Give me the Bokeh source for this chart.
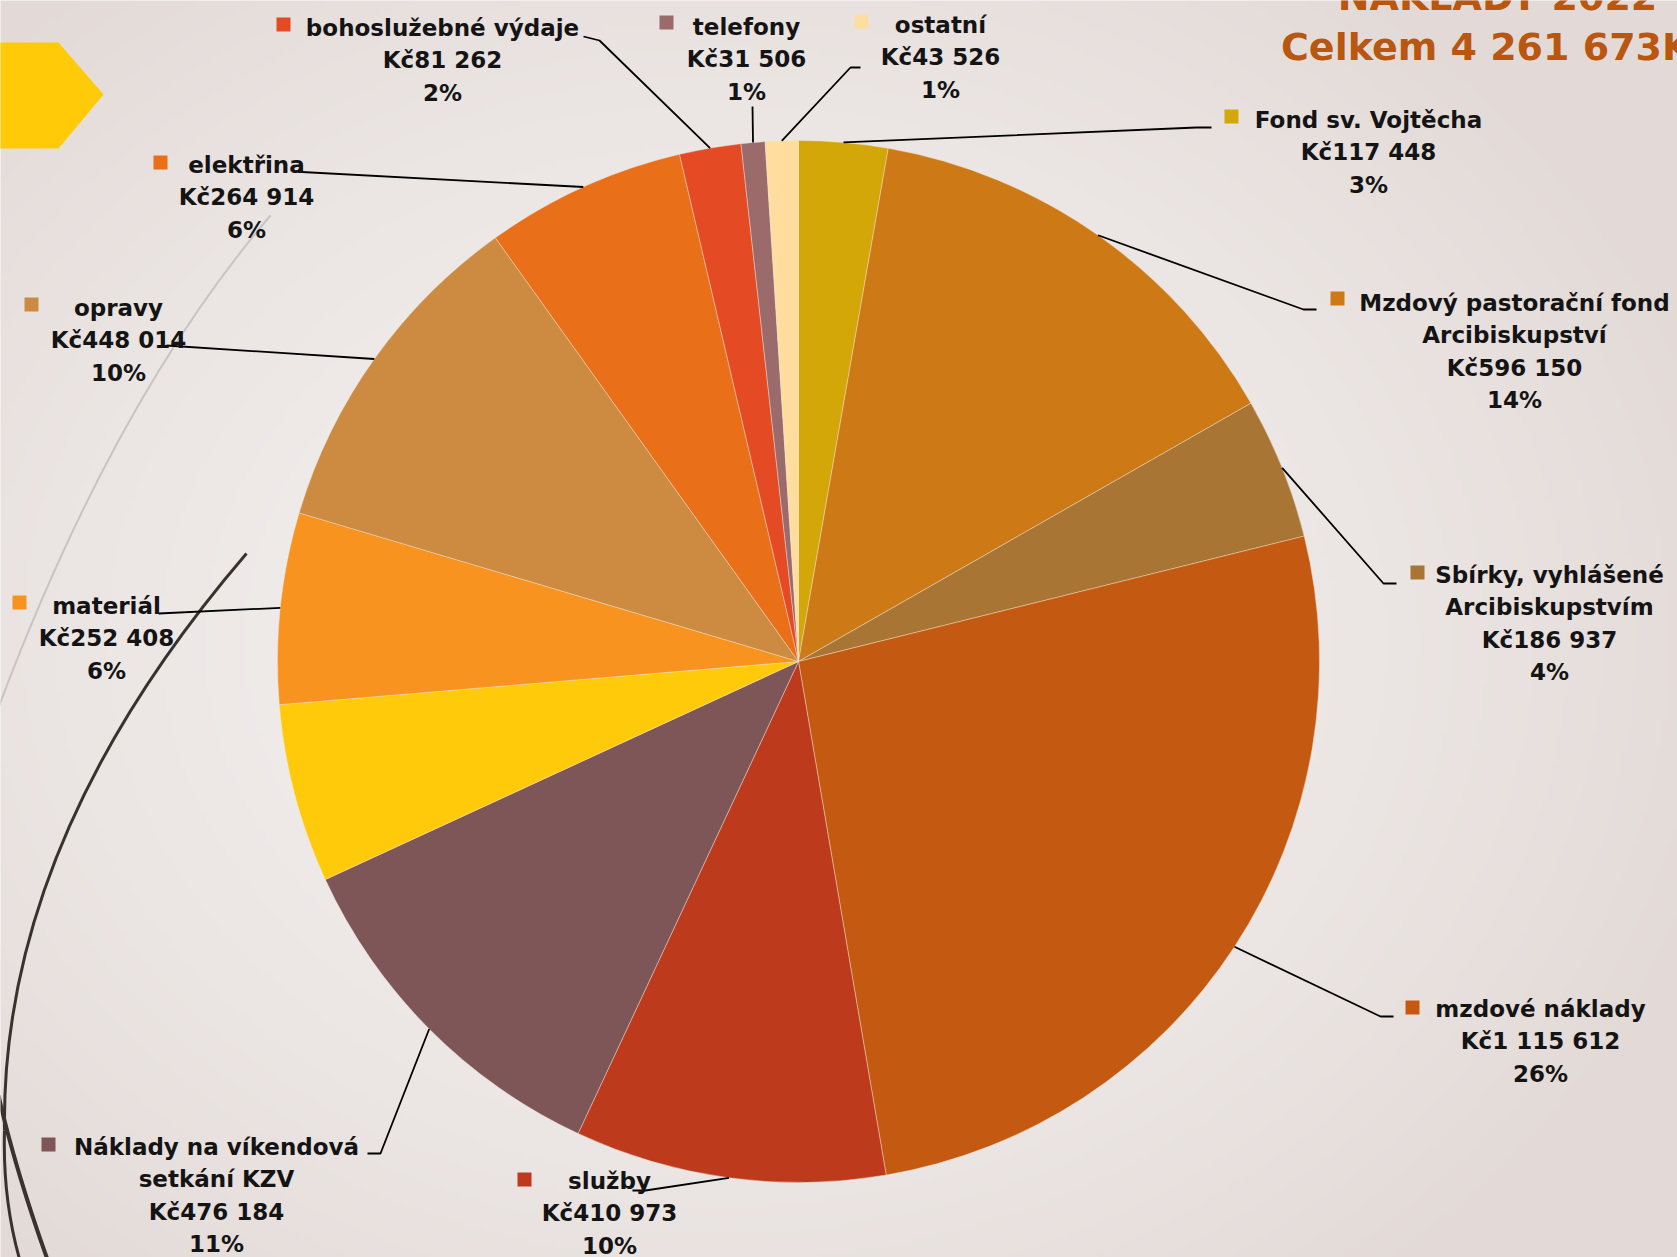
import numpy as np
from bokeh.plotting import figure
from bokeh.models import Range1d
from bokeh.embed import file_html
from bokeh.resources import INLINE
from bokeh.core.properties import value

# ---------------- data ----------------
categories = [
    "Fond sv. Vojtěcha",
    "Mzdový pastorační fond\nArcibiskupství",
    "Sbírky, vyhlášené\nArcibiskupstvím",
    "mzdové náklady",
    "služby",
    "Náklady na víkendová\nsetkání KZV",
    "",                      # unlabelled yellow slice (remainder of the total)
    "materiál",
    "opravy",
    "elektřina",
    "bohoslužebné výdaje",
    "telefony",
    "ostatní",
]
values = [117448, 596150, 186937, 1115612, 410973, 476184, 236739,
          252408, 448014, 264914, 81262, 31506, 43526]
percent_labels = ["3%", "14%", "4%", "26%", "10%", "11%", "",
                  "6%", "10%", "6%", "2%", "1%", "1%"]
colors = ["#D4A708", "#CD7A16", "#A87534", "#C45A11", "#BD3A1C", "#7F5657",
          "#FFCA0A", "#F7931E", "#CD8B41", "#E96F18", "#E44A23", "#9B6B6C",
          "#FFDD9E"]
title_line1 = "NÁKLADY 2022"
title_line2 = "Celkem 4 261 673Kč"

# ---------------- layout (reference pixel coordinates) ----------------
W, H = 1677, 1257
def fy(y):
    return H - y

CX, CY, R = 798, 661, 521
LS = 32.5  # line spacing of data labels

# label block: centre x, first-line y, legend square (x, y), leader elbow/end points
label_layout = {
    0:  dict(cx=1368, y0=119, sq=(1231, 116), lead=[(1196, 127), (1211, 127)]),
    1:  dict(cx=1514, y0=302, sq=(1337, 298), lead=[(1303, 309), (1316, 309)]),
    2:  dict(cx=1549, y0=574, sq=(1417, 572), lead=[(1383, 583), (1396, 583)]),
    3:  dict(cx=1540, y0=1008, sq=(1412, 1007), lead=[(1380, 1016), (1393, 1016)]),
    4:  dict(cx=609, y0=1180, sq=(524, 1179), lead=[(645, 1190), (632, 1190)]),
    5:  dict(cx=216, y0=1146, sq=(48, 1144), lead=[(380, 1153), (367, 1153)]),
    7:  dict(cx=106, y0=605, sq=(19, 602), lead=[(158, 613)]),
    8:  dict(cx=118, y0=307, sq=(31, 304), lead=[(166, 345)]),
    9:  dict(cx=246, y0=164, sq=(160, 162), lead=[(292, 171)]),
    10: dict(cx=442, y0=27, sq=(283, 24), lead=[(599, 40), (583, 36)]),
    11: dict(cx=746, y0=26, sq=(666, 22), lead=[(752, 106)]),
    12: dict(cx=940, y0=24, sq=(861, 21), lead=[(850, 67), (860, 67)]),
}

# ---------------- figure ----------------
p = figure(width=W, height=H,
           x_range=Range1d(0, W), y_range=Range1d(0, H),
           output_backend="svg", toolbar_location=None, min_border=0,
           x_axis_location=None, y_axis_location=None)
p.grid.visible = False
p.outline_line_color = None
p.background_fill_color = "#EEEAE8"
p.border_fill_color = "#EEEAE8"

# soft radial background (slide theme)
gw, gh = 336, 252
gx = np.linspace(0, W, gw)
gy = np.linspace(0, H, gh)
GX, GY = np.meshgrid(gx, gy)
d = np.sqrt(((GX - 720) / 1050.0) ** 2 + (((H - GY) - 640) / 850.0) ** 2)
t = np.clip(d, 0, 1) ** 1.3
c0 = np.array([245, 243, 242], dtype=float)
c1 = np.array([227, 218, 215], dtype=float)
img = np.empty((gh, gw), dtype=np.uint32)
view = img.view(dtype=np.uint8).reshape((gh, gw, 4))
for k in range(3):
    view[:, :, k] = (c0[k] + (c1[k] - c0[k]) * t).astype(np.uint8)
view[:, :, 3] = 255
p.image_rgba(image=[img], x=0, y=0, dw=W, dh=H)

# decorative theme elements
p.patch(x=[-2, 58, 103, 58, -2], y=[fy(42), fy(42), fy(94), fy(148), fy(148)],
        fill_color="#FFCA08", line_color=None)
p.quadratic(x0=[270], y0=[fy(215)], x1=[-5], y1=[fy(715)], cx=[112], cy=[fy(400)],
            line_color="#C9C4C2", line_width=2)
p.quadratic(x0=[246], y0=[fy(553)], x1=[4], y1=[fy(1130)], cx=[0], cy=[fy(840)],
            line_color="#3A322D", line_width=3)
p.quadratic(x0=[4], y0=[fy(1130)], x1=[20], y1=[fy(1262)], cx=[2], cy=[fy(1200)],
            line_color="#3A322D", line_width=3)
p.quadratic(x0=[-2], y0=[fy(1095)], x1=[48], y1=[fy(1262)], cx=[15], cy=[fy(1170)],
            line_color="#3A322D", line_width=4)

# ---------------- pie ----------------
total = float(sum(values))
cum = np.concatenate([[0.0], np.cumsum(values)]) / total
fs, fe = cum[:-1], cum[1:]
p.wedge(x=CX, y=fy(CY), radius=R,
        start_angle=list(np.pi / 2 - 2 * np.pi * fe),
        end_angle=list(np.pi / 2 - 2 * np.pi * fs),
        fill_color=colors, line_color="#F3E6DA", line_width=0.7, line_alpha=0.6)

# ---------------- leaders, labels, squares ----------------
lx, ly = [], []
tx, ty, tt = [], [], []
sx, sy, sc = [], [], []
for i, lay in label_layout.items():
    mid = np.pi * (fs[i] + fe[i])
    px = CX + R * np.sin(mid)
    py = CY - R * np.cos(mid)
    pts = [(px, py)] + lay["lead"]
    lx.append([q[0] for q in pts])
    ly.append([fy(q[1]) for q in pts])
    lines = categories[i].split("\n") + ["Kč" + f"{values[i]:,}".replace(",", " "),
                                          percent_labels[i]]
    for j, s in enumerate(lines):
        tx.append(lay["cx"])
        ty.append(fy(lay["y0"] + j * LS))
        tt.append(s)
    sx.append(lay["sq"][0])
    sy.append(fy(lay["sq"][1]))
    sc.append(colors[i])

p.multi_line(xs=lx, ys=ly, line_color="#000000", line_width=1.8)
p.rect(x=sx, y=sy, width=14, height=14, fill_color=sc, line_color=None)
p.text(x=tx, y=ty, text=tt, text_font=value("DejaVu Sans"), text_font_style="bold",
       text_font_size="23px", text_align="center", text_baseline="middle",
       text_color="#141414")

# ---------------- title (partly cut off at the top/right) ----------------
p.text(x=[1497, 1497], y=[fy(-4), fy(46)], text=[title_line1, title_line2],
       text_font=value("DejaVu Sans"), text_font_style="bold", text_font_size="38px",
       text_align="center", text_baseline="alphabetic", text_color="#B9560F")

open("out.html", "w").write(file_html(p, INLINE))
